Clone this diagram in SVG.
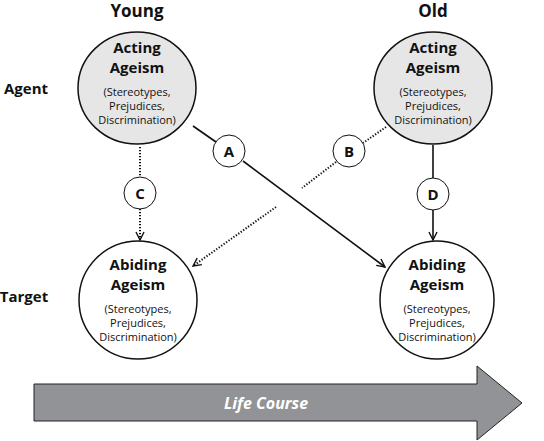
<svg xmlns="http://www.w3.org/2000/svg" width="544" height="441" viewBox="0 0 544 441">
<defs>
<marker id="arr" viewBox="0 0 10 10" refX="9" refY="5" markerWidth="10" markerHeight="10" markerUnits="userSpaceOnUse" orient="auto">
<path d="M1,1 L9,5 L1,9" fill="none" stroke="#111" stroke-width="1.4"/>
</marker>
<style>
text{font-family:"Open Sans","Liberation Sans",sans-serif;fill:#111;text-anchor:middle}
.hd{font-weight:bold;font-size:15px}
.sm{font-size:11px}
.lab{font-weight:bold;font-size:15px}
.col{font-weight:bold;font-size:17px}
.big{fill:#e6e6e7;stroke:#111;stroke-width:1.5}
.bigw{fill:#fff;stroke:#111;stroke-width:1.5}
.sc{fill:#fff;stroke:#111;stroke-width:1}
.solid{stroke:#111;stroke-width:1.6;fill:none}
.dot{stroke:#111;stroke-width:2;fill:none;stroke-dasharray:1.3 1.7}
</style>
</defs>
<rect width="544" height="441" fill="#fff"/>
<text class="col" x="137" y="17">Young</text>
<text class="col" x="433" y="17">Old</text>
<text class="lab" x="26" y="94">Agent</text>
<text class="lab" x="24" y="302">Target</text>

<g id="connectors">
<line class="solid" x1="193" y1="126" x2="216" y2="142"/>
<line class="solid" x1="243" y1="161" x2="385" y2="267" marker-end="url(#arr)"/>
<line class="dot" x1="386" y1="127" x2="363" y2="143"/>
<line class="dot" x1="336" y1="162" x2="302" y2="188"/>
<line class="dot" x1="276" y1="207" x2="193" y2="266" marker-end="url(#arr)"/>
<line class="dot" x1="140" y1="147" x2="140" y2="177"/>
<line class="dot" x1="140" y1="209" x2="140" y2="240" marker-end="url(#arr)"/>
<line class="solid" x1="433" y1="145" x2="433" y2="178"/>
<line class="solid" x1="433" y1="210" x2="433" y2="240" marker-end="url(#arr)"/>
</g>

<g id="young-agent">
<ellipse class="big" cx="137" cy="88" rx="59" ry="56"/>
<text class="hd" x="137" y="53">Acting</text>
<text class="hd" x="137" y="73">Ageism</text>
<text class="sm" x="137" y="96">(Stereotypes,</text>
<text class="sm" x="137" y="110">Prejudices,</text>
<text class="sm" x="137" y="124">Discrimination)</text>
</g>
<g id="old-agent">
<ellipse class="big" cx="433" cy="88" rx="59" ry="56"/>
<text class="hd" x="433" y="53">Acting</text>
<text class="hd" x="433" y="73">Ageism</text>
<text class="sm" x="433" y="96">(Stereotypes,</text>
<text class="sm" x="433" y="110">Prejudices,</text>
<text class="sm" x="433" y="124">Discrimination)</text>
</g>
<g id="young-target">
<ellipse class="bigw" cx="138" cy="300" rx="59" ry="59"/>
<text class="hd" x="138" y="270">Abiding</text>
<text class="hd" x="138" y="290">Ageism</text>
<text class="sm" x="138" y="313">(Stereotypes,</text>
<text class="sm" x="138" y="327">Prejudices,</text>
<text class="sm" x="138" y="341">Discrimination)</text>
</g>
<g id="old-target">
<ellipse class="bigw" cx="437" cy="300" rx="57" ry="59"/>
<text class="hd" x="437" y="270">Abiding</text>
<text class="hd" x="437" y="290">Ageism</text>
<text class="sm" x="437" y="313">(Stereotypes,</text>
<text class="sm" x="437" y="327">Prejudices,</text>
<text class="sm" x="437" y="341">Discrimination)</text>
</g>

<g id="A"><circle class="sc" cx="229" cy="151" r="16"/><text class="lab" x="229" y="157">A</text></g>
<g id="B"><circle class="sc" cx="349" cy="151" r="16"/><text class="lab" x="349" y="157">B</text></g>
<g id="C"><circle class="sc" cx="140" cy="193" r="16"/><text class="lab" x="140" y="199">C</text></g>
<g id="D"><circle class="sc" cx="433" cy="194" r="16"/><text class="lab" x="433" y="200">D</text></g>

<g id="life-course">
<path d="M34,384 L477,384 L477,366 L522,403 L477,440 L477,421 L34,421 Z" fill="#929396" stroke="#222" stroke-width="1"/>
<text x="266" y="409" style="font-weight:bold;font-style:italic;font-size:16px;fill:#fff">Life Course</text>
</g>
</svg>
